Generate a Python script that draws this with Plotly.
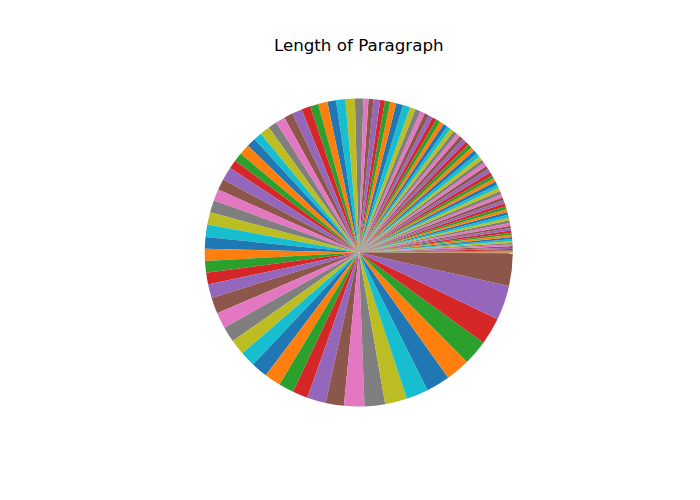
import plotly.graph_objects as go

title_text = "Length of Paragraph"

# estimated slice sizes, in drawing order (counter-clockwise from 3 o'clock)
values_small = [0.3, 0.4, 0.4, 0.5, 0.5, 0.6, 0.6, 0.6, 0.7, 0.7,
                0.8, 0.8, 0.8, 0.9, 0.9, 0.9, 1.0, 1.0, 1.0, 1.1,
                1.1, 1.1, 1.1, 1.2, 1.2, 1.2, 1.2, 1.3, 1.3, 1.3,
                1.3, 1.3, 1.3, 1.4, 1.4, 1.4, 1.4, 1.4, 1.5, 1.5,
                1.5, 1.5, 1.5, 1.5, 1.5, 1.5, 1.5, 1.5, 1.5, 1.5,
                1.6, 1.6, 1.6, 1.6, 1.6]
values_mid = [1.7, 1.8, 2.0, 2.1, 2.8, 2.6, 2.3, 2.0, 1.8, 2.5, 1.9, 1.9,
              3.2, 3.6, 3.5, 3.3, 3.5, 3.1, 3.4, 3.8, 3.3, 3.6, 3.3, 3.8,
              3.1, 3.5, 4.0, 3.3, 3.3, 5.0, 4.2]
values_large = [4.4, 4.6, 4.7, 4.7, 4.4, 4.6, 4.4, 4.4,
                5.2, 6.1, 6.0, 5.9, 5.8, 5.8, 6.2, 6.2, 5.7, 5.8,
                7.1, 6.9, 7.7, 7.8, 8.3, 8.4, 9.0, 9.1, 9.5, 10.2, 13.2, 12.3]

values = values_small + values_mid + values_large
labels = [str(i) for i in range(len(values))]

tab10 = ["#1f77b4", "#ff7f0e", "#2ca02c", "#d62728", "#9467bd",
         "#8c564b", "#e377c2", "#7f7f7f", "#bcbd22", "#17becf"]
colors = [tab10[i % 10] for i in range(len(values))]

fig = go.Figure(go.Pie(
    labels=labels,
    values=values,
    sort=False,
    direction="counterclockwise",
    rotation=90,
    textinfo="none",
    hoverinfo="label+value",
    marker=dict(colors=colors, line=dict(width=0)),
    domain=dict(x=[0.2925, 0.7325], y=[0.187, 0.803]),
    showlegend=False,
))

fig.update_layout(
    width=700, height=500,
    margin=dict(l=0, r=0, t=0, b=0),
    paper_bgcolor="white", plot_bgcolor="white",
    title=dict(text=title_text, x=358.75/700, xanchor="center",
               y=(500-45)/500, yanchor="middle", yref="container",
               font=dict(family="DejaVu Sans", size=16.7, color="black")),
)

fig.write_html("out.html")
